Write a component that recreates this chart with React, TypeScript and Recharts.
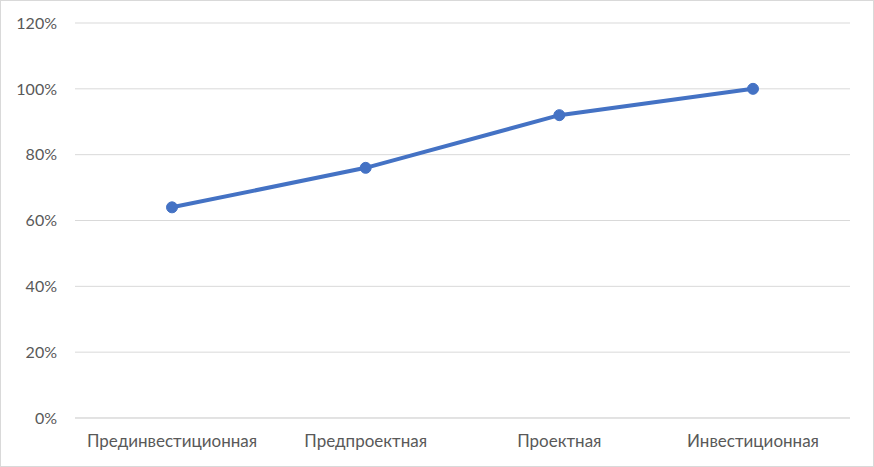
import React from "react";
import { LineChart, Line, XAxis, YAxis, CartesianGrid } from "recharts";

const categories = ["Прединвестиционная", "Предпроектная", "Проектная", "Инвестиционная"];
const values = [0.64, 0.76, 0.92, 1.0];
const yTicks = [0, 0.2, 0.4, 0.6, 0.8, 1.0, 1.2];

const data = categories.map((c, i) => ({ name: c, value: values[i] }));

const font = "Lato, 'Open Sans', sans-serif";

export default function App() {
  return (
    <div
      style={{
        position: "absolute",
        left: 0,
        top: 0,
        width: 874,
        height: 467,
        boxSizing: "border-box",
        border: "1px solid #d9d9d9",
        background: "#fff",
      }}
    >
      <div style={{ position: "absolute", left: -1, top: -1 }}>
        <LineChart
          width={874}
          height={467}
          data={data}
          margin={{ top: 23, right: 24, left: 0, bottom: 0 }}
        >
          <CartesianGrid vertical={false} stroke="#d9d9d9" strokeWidth={1} />
          <XAxis
            dataKey="name"
            axisLine={{ stroke: "#d9d9d9" }}
            tickLine={false}
            tickSize={0}
            tickMargin={17}
            height={49}
            interval={0}
            padding={{ left: 97, right: 97 }}
            tick={{ fill: "#595959", fontSize: 17, fontFamily: font }}
          />
          <YAxis
            domain={[0, 1.2]}
            ticks={yTicks}
            width={75}
            axisLine={false}
            tickLine={false}
            tickSize={0}
            tickMargin={18}
            tickFormatter={(v: number) => `${Math.round(v * 100)}%`}
            tick={{ fill: "#595959", fontSize: 16, fontFamily: font }}
          />
          <Line
            type="linear"
            dataKey="value"
            stroke="#4472C4"
            strokeWidth={4}
            dot={{ r: 5.5, fill: "#4472C4", stroke: "#4472C4", strokeWidth: 1 }}
            isAnimationActive={false}
          />
        </LineChart>
      </div>
    </div>
  );
}
